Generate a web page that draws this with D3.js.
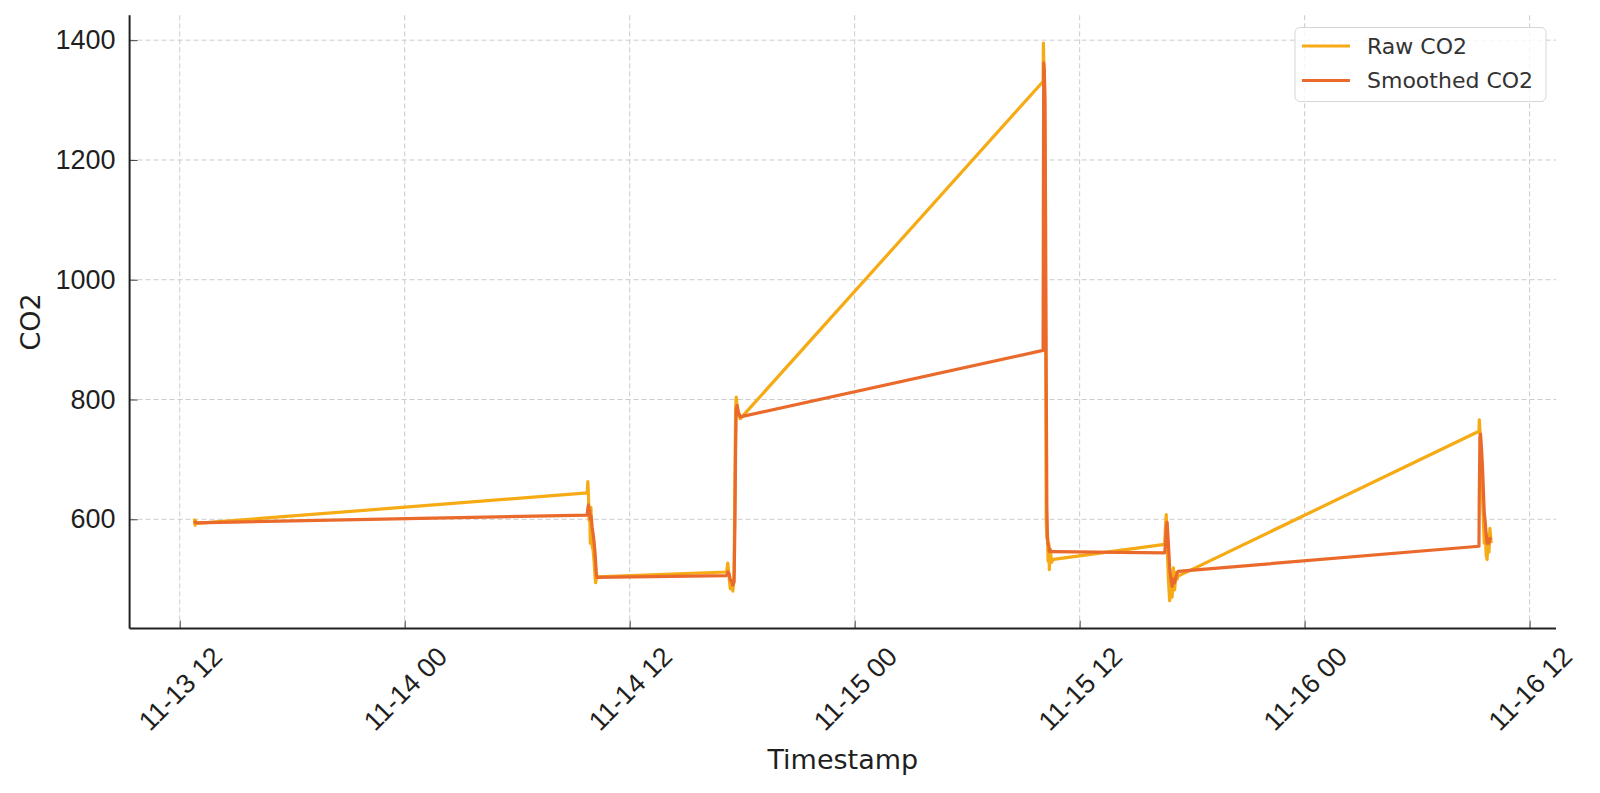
<!DOCTYPE html>
<html>
<head>
<meta charset="utf-8">
<style>
html, body { margin: 0; padding: 0; background: #fff; }
svg { display: block; font-family: "DejaVu Sans", sans-serif; }
.grid line { stroke: #cbcbcb; stroke-width: 1; stroke-dasharray: 5,3; }
.spine { stroke: #222; stroke-width: 2; }
.tick-label { fill: #1f1f1f; font-size: 27px; }
.axis-label { fill: #1f1f1f; font-size: 27px; }
.series { fill: none; stroke-width: 3.2; stroke-linejoin: round; stroke-linecap: butt; }
</style>
</head>
<body>
<script src="https://cdn.jsdelivr.net/npm/d3@7"></script>
<script>
// readings, grouped by burst
var times = [
  '2023-11-13 12:47', '2023-11-13 12:49', '2023-11-13 12:51', '2023-11-13 12:53',
  '2023-11-14 09:44', '2023-11-14 09:46', '2023-11-14 09:48', '2023-11-14 09:50', '2023-11-14 09:52',
  '2023-11-14 09:54', '2023-11-14 09:56', '2023-11-14 09:58', '2023-11-14 10:00', '2023-11-14 10:03',
  '2023-11-14 10:06', '2023-11-14 10:09', '2023-11-14 10:11', '2023-11-14 10:13', '2023-11-14 10:15',
  '2023-11-14 17:10', '2023-11-14 17:14', '2023-11-14 17:18', '2023-11-14 17:22', '2023-11-14 17:26',
  '2023-11-14 17:30', '2023-11-14 17:34', '2023-11-14 17:37', '2023-11-14 17:39', '2023-11-14 17:41',
  '2023-11-14 17:44', '2023-11-14 17:47', '2023-11-14 17:50', '2023-11-14 17:54',
  '2023-11-15 10:03', '2023-11-15 10:04', '2023-11-15 10:05', '2023-11-15 10:07', '2023-11-15 10:09',
  '2023-11-15 10:11', '2023-11-15 10:13', '2023-11-15 10:15', '2023-11-15 10:17', '2023-11-15 10:19',
  '2023-11-15 10:21', '2023-11-15 10:23', '2023-11-15 10:26', '2023-11-15 10:30', '2023-11-15 10:36',
  '2023-11-15 16:32', '2023-11-15 16:35', '2023-11-15 16:37', '2023-11-15 16:40', '2023-11-15 16:44',
  '2023-11-15 16:48', '2023-11-15 16:52', '2023-11-15 16:56', '2023-11-15 17:00', '2023-11-15 17:04',
  '2023-11-15 17:08', '2023-11-15 17:12', '2023-11-15 17:15',
  '2023-11-16 09:18', '2023-11-16 09:19', '2023-11-16 09:21', '2023-11-16 09:23', '2023-11-16 09:26',
  '2023-11-16 09:29', '2023-11-16 09:32', '2023-11-16 09:35', '2023-11-16 09:38', '2023-11-16 09:41',
  '2023-11-16 09:44', '2023-11-16 09:47', '2023-11-16 09:50', '2023-11-16 09:53', '2023-11-16 09:57'
]

var rawCO2 = [
  601, 590, 598, 593,
  644, 663, 640, 598, 615, 560, 620, 575, 555, 548, 530, 505, 494, 500, 504,
  512, 527, 503, 484, 495, 480, 505, 690, 785, 804, 785, 778, 772, 768,
  1331, 1395, 1368, 1340, 1250, 900, 600, 568, 576, 530, 560, 516, 550, 528, 533,
  558, 590, 608, 560, 500, 464, 490, 470, 519, 482, 511, 500, 505,
  747, 766, 750, 720, 680, 640, 600, 560, 589, 540, 533, 575, 545, 585, 560
]

var smoothedCO2 = [
  597, 595, 595, 594,
  607, 618, 624, 616, 615, 600, 606, 598, 586, 575, 562, 545, 528, 512, 503,
  506, 512, 509, 499, 497, 490, 495, 600, 720, 785, 790, 782, 776, 771,
  882, 1150, 1362, 1350, 1300, 1100, 850, 620, 570, 558, 556, 546, 548, 546, 546,
  544, 560, 585, 595, 560, 520, 500, 488, 500, 494, 503, 510, 513,
  555, 640, 735, 742, 720, 690, 650, 610, 595, 575, 560, 565, 560, 568, 566
]

var seriesNames = ['Raw CO2', 'Smoothed CO2']
var seriesColors = ['#f6aa14', '#ea6a2b']

var xTicks = ['2023-11-13 12:00', '2023-11-14 00:00', '2023-11-14 12:00', '2023-11-15 00:00',
  '2023-11-15 12:00', '2023-11-16 00:00', '2023-11-16 12:00']
var yTicks = [600, 800, 1000, 1200, 1400]

var width = 1600
var height = 793
var plotLeft = 129.6, plotRight = 1556, plotTop = 15.3, plotBottom = 628.6

var parse = d3.timeParse('%Y-%m-%d %H:%M')
var fmt = d3.timeFormat('%m-%d %H')
var dates = times.map(parse)

// matplotlib-like 5% padding
var tExt = d3.extent(dates)
var tPad = (tExt[1] - tExt[0]) * 0.05
var yExt = d3.extent(rawCO2.concat(smoothedCO2))
var yPad = (yExt[1] - yExt[0]) * 0.05

var x = d3.scaleTime()
    .domain([new Date(+tExt[0] - tPad), new Date(+tExt[1] + tPad)])
    .range([plotLeft, plotRight])
var y = d3.scaleLinear()
    .domain([yExt[0] - yPad, yExt[1] + yPad])
    .range([plotBottom, plotTop])

var svg = d3.select('body').append('svg')
    .attr('width', width)
    .attr('height', height)

// grid
var grid = svg.append('g').attr('class', 'grid')
grid.selectAll('.gx').data(xTicks.map(parse)).enter().append('line')
    .attr('x1', function (d) { return x(d) }).attr('x2', function (d) { return x(d) })
    .attr('y1', plotTop).attr('y2', plotBottom)
grid.selectAll('.gy').data(yTicks).enter().append('line')
    .attr('x1', plotLeft).attr('x2', plotRight)
    .attr('y1', function (d) { return y(d) }).attr('y2', function (d) { return y(d) })

// series
var line = d3.line()
    .x(function (d) { return x(d[0]) })
    .y(function (d) { return y(d[1]) })

;[rawCO2, smoothedCO2].forEach(function (vals, i) {
    svg.append('path')
        .datum(dates.map(function (d, j) { return [d, vals[j]] }))
        .attr('class', 'series')
        .attr('stroke', seriesColors[i])
        .attr('d', line)
})

// axes
var xAxis = svg.append('g').attr('transform', 'translate(0,' + plotBottom + ')')
    .call(d3.axisBottom(x).tickValues(xTicks.map(parse)).tickFormat(fmt).tickSizeInner(-8).tickSizeOuter(0))
xAxis.select('.domain').remove()
xAxis.selectAll('.tick line').attr('stroke', '#444')
xAxis.selectAll('.tick text')
    .attr('class', 'tick-label')
    .attr('y', 0).attr('dy', '0.35em')
    .attr('text-anchor', 'middle')
    .attr('transform', 'translate(0,60) rotate(-45)')

var yAxis = svg.append('g').attr('transform', 'translate(' + plotLeft + ',0)')
    .call(d3.axisLeft(y).tickValues(yTicks).tickFormat(d3.format('d')).tickSizeInner(-8).tickSizeOuter(0))
yAxis.select('.domain').remove()
yAxis.selectAll('.tick line').attr('stroke', '#444')
yAxis.selectAll('.tick text')
    .attr('class', 'tick-label')
    .attr('x', -14)

svg.append('line').attr('class', 'spine')
    .attr('x1', plotLeft).attr('x2', plotLeft).attr('y1', plotTop).attr('y2', plotBottom)
svg.append('line').attr('class', 'spine')
    .attr('x1', plotLeft).attr('x2', plotRight).attr('y1', plotBottom).attr('y2', plotBottom)

svg.append('text').attr('class', 'axis-label')
    .attr('x', (plotLeft + plotRight) / 2).attr('y', 769)
    .attr('text-anchor', 'middle')
    .text('Timestamp')

svg.append('text').attr('class', 'axis-label')
    .attr('transform', 'translate(40,' + (plotTop + plotBottom) / 2 + ') rotate(-90)')
    .attr('text-anchor', 'middle')
    .text('CO2')

// legend
var legend = svg.append('g').attr('transform', 'translate(1295,27.5)')
legend.append('rect')
    .attr('width', 251).attr('height', 74).attr('rx', 5)
    .attr('fill', '#fff').attr('fill-opacity', 0.8)
    .attr('stroke', '#d6d6d6').attr('stroke-width', 1)
seriesNames.forEach(function (name, i) {
    var g = legend.append('g').attr('transform', 'translate(0,' + (18.5 + i * 34.5) + ')')
    g.append('line')
        .attr('x1', 7).attr('x2', 55)
        .attr('stroke', seriesColors[i]).attr('stroke-width', 3)
    g.append('text')
        .attr('x', 72).attr('dy', '0.35em')
        .attr('fill', '#333').attr('font-size', 22)
        .text(name)
})
</script>
</body>
</html>
